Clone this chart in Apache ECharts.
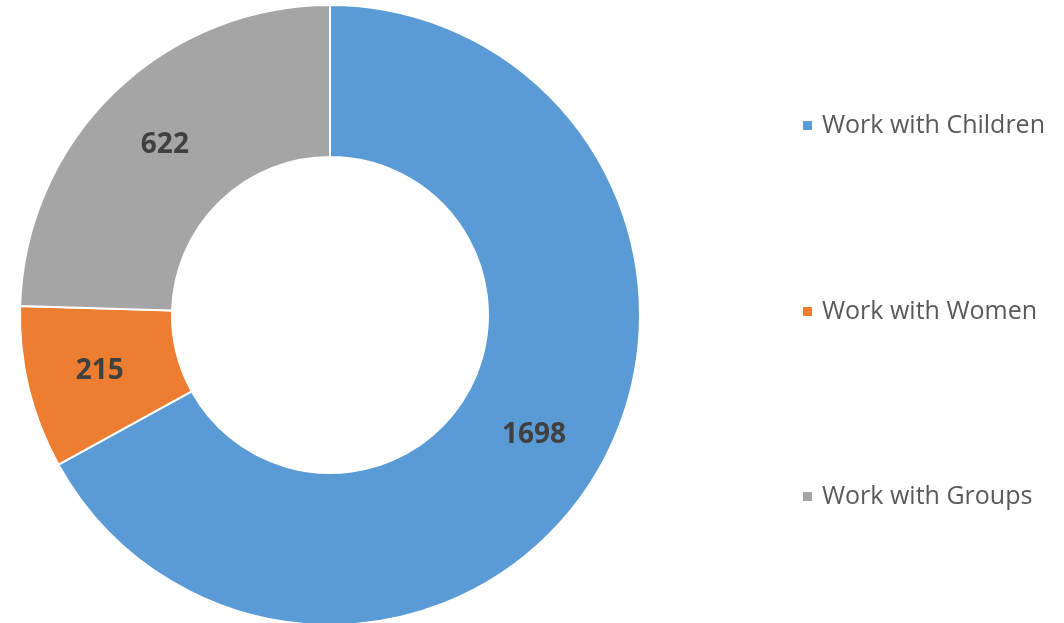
<!DOCTYPE html>
<html>
<head>
<meta charset="utf-8">
<script src="https://cdn.jsdelivr.net/npm/echarts@6/dist/echarts.min.js"></script>
<style>html,body{margin:0;padding:0;background:#fff;}#c{width:1064px;height:623px;}</style>
</head>
<body>
<div id="c"></div>
<script>
const categories = ['Work with Children', 'Work with Women', 'Work with Groups'];
const values = [1698, 215, 622];
const colors = ['#5B9BD5', '#ED7D31', '#A5A5A5'];

const chart = echarts.init(document.getElementById('c'));
const legendTops = [108, 294, 479];
const legends = categories.map((name, i) => ({
  data: [name],
  orient: 'vertical',
  left: 796,
  top: legendTops[i],
  itemWidth: 11,
  itemHeight: 11,
  icon: 'rect',
  textStyle: { color: '#595959', fontSize: 25, fontFamily: 'Open Sans', padding: [0, 0, 0, 4] },
  selectedMode: false
}));
chart.setOption({
  animation: false,
  legend: legends,
  series: [{
    type: 'pie',
    center: [330, 315],
    radius: [158, 310],
    startAngle: 90,
    clockwise: true,
    data: categories.map((n, i) => ({ name: n, value: values[i], itemStyle: { color: colors[i] } })),
    itemStyle: { borderColor: '#fff', borderWidth: 2 },
    label: {
      show: true,
      position: 'inside',
      formatter: '{c}',
      color: '#404040',
      fontSize: 28,
      fontWeight: 'bold',
      fontFamily: 'Open Sans'
    },
    labelLine: { show: false },
    emphasis: { disabled: true }
  }]
});
</script>
</body>
</html>
